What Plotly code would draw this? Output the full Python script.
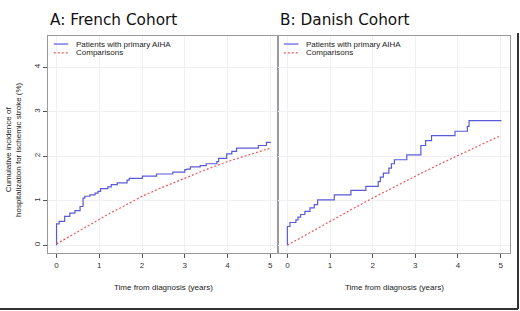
import plotly.graph_objects as go

# French cohort
fr_aiha_t = [0, 0, 0.06, 0.19, 0.31, 0.43, 0.55, 0.62, 0.66, 0.78, 0.90, 0.97, 1.03, 1.20, 1.28, 1.42,
             1.65, 1.70, 2.01, 2.34, 2.72, 3.00, 3.05, 3.13, 3.36, 3.50, 3.75, 3.79, 3.98, 4.10, 4.21,
             4.72, 4.91, 5.01]
fr_aiha_y = [0, 0.48, 0.535, 0.65, 0.72, 0.775, 0.87, 1.06, 1.10, 1.13, 1.17, 1.21, 1.27, 1.31, 1.36, 1.40,
             1.46, 1.50, 1.55, 1.60, 1.64, 1.70, 1.71, 1.76, 1.79, 1.83, 1.88, 1.95, 2.05, 2.11, 2.18,
             2.24, 2.31, 2.31]
fr_comp_t = [0, 0.25, 0.5, 0.75, 1, 1.25, 1.5, 1.75, 2, 2.5, 3, 3.5, 4, 4.5, 5]
fr_comp_y = [0.03, 0.17, 0.31, 0.45, 0.58, 0.72, 0.84, 0.97, 1.10, 1.31, 1.51, 1.70, 1.88, 2.03, 2.18]

# Danish cohort
dk_aiha_t = [0, 0, 0.06, 0.20, 0.25, 0.31, 0.41, 0.53, 0.63, 0.71, 1.10, 1.49, 1.84, 2.13, 2.18, 2.25,
             2.38, 2.44, 2.51, 2.80, 3.13, 3.24, 3.38, 3.93, 4.22, 4.26, 5.02]
dk_aiha_y = [0, 0.42, 0.51, 0.57, 0.63, 0.69, 0.76, 0.84, 0.91, 1.02, 1.13, 1.23, 1.32, 1.43, 1.53, 1.62,
             1.73, 1.83, 1.92, 2.03, 2.24, 2.35, 2.46, 2.56, 2.67, 2.80, 2.80]
dk_comp_t = [0, 0.5, 1, 1.5, 2, 2.5, 3, 3.5, 4, 4.5, 5]
dk_comp_y = [0, 0.27, 0.54, 0.80, 1.06, 1.31, 1.55, 1.79, 2.02, 2.24, 2.46]

x_ticks = [0, 1, 2, 3, 4, 5]
y_ticks = [0, 1, 2, 3, 4]
titles = ["A: French Cohort", "B: Danish Cohort"]
legend_labels = ["Patients with primary AIHA", "Comparisons"]

BLUE = "#5a5ad8"
RED = "#e85a5a"

fig = go.Figure()
fig.add_trace(go.Scatter(x=fr_aiha_t, y=fr_aiha_y, mode="lines", line=dict(color=BLUE, width=1.2, shape="hv"),
                         xaxis="x", yaxis="y", showlegend=False))
fig.add_trace(go.Scatter(x=fr_comp_t, y=fr_comp_y, mode="lines", line=dict(color=RED, width=1.2, dash="2px,2px"),
                         xaxis="x", yaxis="y", showlegend=False))
fig.add_trace(go.Scatter(x=dk_aiha_t, y=dk_aiha_y, mode="lines", line=dict(color=BLUE, width=1.2, shape="hv"),
                         xaxis="x2", yaxis="y2", showlegend=False))
fig.add_trace(go.Scatter(x=dk_comp_t, y=dk_comp_y, mode="lines", line=dict(color=RED, width=1.2, dash="2px,2px"),
                         xaxis="x2", yaxis="y2", showlegend=False))

W, H = 520, 311
ml, mr, mt, mb = 48, 10, 36, 58
split = 230 / 462

axis_common = dict(showline=True, linecolor="#9a9a9a", linewidth=1, mirror=True,
                   ticks="outside", ticklen=4, tickcolor="#555", tickwidth=1,
                   showgrid=True, gridcolor="#f0f0f4", gridwidth=1, zeroline=False,
                   tickfont=dict(family="Liberation Sans, Arial", size=8, color="#333"))

fig.update_layout(
    width=W, height=H,
    margin=dict(l=ml, r=mr, t=mt, b=mb),
    paper_bgcolor="white", plot_bgcolor="white",
    xaxis=dict(domain=[0, split], range=[-0.2, 5.18], tickvals=x_ticks, **axis_common),
    xaxis2=dict(domain=[split, 1], range=[-0.22, 5.22], tickvals=x_ticks, **axis_common),
    yaxis=dict(range=[-0.175, 4.7], tickvals=y_ticks, tickangle=-90, **axis_common),
    yaxis2=dict(range=[-0.175, 4.7], tickvals=y_ticks, showticklabels=False, anchor="x2",
                **{**axis_common, "ticks": ""}),
)

ann = []
for i, xr in enumerate(["x", "x2"]):
    ann.append(dict(text=titles[i], xref=xr + " domain", yref="paper", x=0, y=1.074,
                    xanchor="left", yanchor="middle", showarrow=False,
                    font=dict(family="DejaVu Sans", size=15.3, color="#111")))
    ann.append(dict(text="Time from diagnosis (years)", xref=xr, yref="paper", x=2.5, y=-0.161,
                    xanchor="center", yanchor="middle", showarrow=False,
                    font=dict(family="Liberation Sans, Arial", size=8, color="#222")))
    for j, (lab, col, dash) in enumerate(zip(legend_labels, [BLUE, RED], ["solid", "2px,2px"])):
        yy = [0.963, 0.922][j]
        fig.add_shape(type="line", xref=xr + " domain", yref="paper", x0=0.025, x1=0.088, y0=yy, y1=yy,
                      line=dict(color=col, width=1.2, dash=dash))
        ann.append(dict(text=lab, xref=xr + " domain", yref="paper", x=0.112, y=yy,
                        xanchor="left", yanchor="middle", showarrow=False,
                        font=dict(family="Liberation Sans, Arial", size=8, color="#222")))

ann.append(dict(text="Cumulative incidence of<br>hospitalization for ischemic stroke (%)",
                xref="paper", yref="paper", x=(13 - ml) / 462, y=(253 - 150) / 217,
                textangle=-90, xanchor="center", yanchor="middle", showarrow=False,
                font=dict(family="Liberation Sans, Arial", size=8, color="#222")))
fig.update_layout(annotations=ann)

# outer frame (right and bottom edges)
fig.add_shape(type="line", xref="paper", yref="paper", x0=(518 - ml) / 462, x1=(518 - ml) / 462,
              y0=(253 - 33) / 217, y1=(253 - 309) / 217, line=dict(color="#333", width=2))
fig.add_shape(type="line", xref="paper", yref="paper", x0=-ml / 462, x1=(518 - ml) / 462,
              y0=(253 - 309) / 217, y1=(253 - 309) / 217, line=dict(color="#333", width=2))

fig.write_html("out.html", config={"displayModeBar": False},
               post_script="document.body.style.margin='0';document.body.style.overflow='hidden';")
